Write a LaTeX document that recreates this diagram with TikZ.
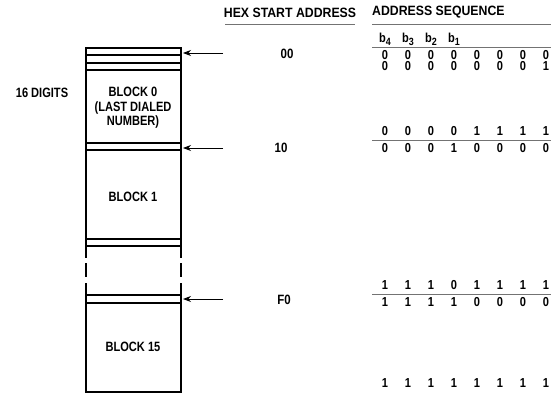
\documentclass[tikz,border=0pt]{standalone}
\usepackage{fontspec}
\setmainfont{Liberation Sans}
\newfontfamily\condfont[FakeStretch=0.82]{Liberation Sans}
\newfontfamily\hdrfont[FakeStretch=0.91]{Liberation Sans}
\newfontfamily\digfont[FakeStretch=0.85]{Liberation Sans}
\usetikzlibrary{arrows.meta}
\begin{document}
\begin{tikzpicture}[x=1pt,y=-1pt,
  wall/.style={line width=1.7pt},
  sep/.style={line width=1.5pt},
  rule/.style={draw=black!55,line width=0.7pt},
  ptr/.style={line width=0.9pt,-{Stealth[length=8pt,width=6pt]}},
  lbl/.style={font=\condfont\bfseries\fontsize{13.5}{14.5}\selectfont,inner sep=0pt,align=center},
  hdr/.style={font=\hdrfont\bfseries\fontsize{13.5}{14}\selectfont,inner sep=0pt},
  dig/.style={font=\digfont\bfseries\fontsize{13}{14}\selectfont,inner sep=0pt},
  hexl/.style={font=\digfont\bfseries\fontsize{13.5}{14}\selectfont,inner sep=0pt}]
\useasboundingbox (0,0) rectangle (551,396);
% box walls
\foreach \xx in {86,181}{
  \draw[wall] (\xx,48) -- (\xx,258);
  \draw[wall] (\xx,263) -- (\xx,277);
  \draw[wall] (\xx,283) -- (\xx,392);
}
\foreach \yy in {48,55,63,70,143,150,239,246,295,303,392}{
  \draw[sep] (85.2,\yy) -- (181.8,\yy);
}
% texts in the block column
\node[lbl] (digits) at (42,93) {16 DIGITS};
\node[lbl] (blk0) at (133,108) {BLOCK 0\\(LAST DIALED\\NUMBER)};
\node[lbl] (blk1) at (133,197) {BLOCK 1};
\node[lbl] (blk15) at (133,347) {BLOCK 15};
% headers
\node[hdr] (hexhdr) at (290,13) {HEX START ADDRESS};
\node[hdr,anchor=west] (seqhdr) at (372,12) {ADDRESS SEQUENCE};
\draw[rule] (225,24) -- (355,24);
\draw[rule] (372,24) -- (551,24);
% hex addresses and pointers
\node[hexl] (h00) at (287,54) {00};
\node[hexl] (h10) at (281,148) {10};
\node[hexl] (hF0) at (284,300) {F0};
\coordinate (t00) at (223,53);  \coordinate (p00) at (183,53);
\coordinate (t10) at (223,148); \coordinate (p10) at (183,148);
\coordinate (tF0) at (223,299); \coordinate (pF0) at (183,299);
\draw[ptr] (t00) -- (p00);
\draw[ptr] (t10) -- (p10);
\draw[ptr] (tF0) -- (pF0);
% bit labels
\foreach \lab/\i in {4/1,3/2,2/3,1/4}{
  \node[dig,anchor=base] (b\lab) at ({385+23*(\i-1)},43) {b\raisebox{-2.5pt}{\fontsize{10.5}{12}\selectfont\lab}};
}
\draw[rule] (372,47) -- (551,47);
\draw[rule] (372,140) -- (551,140);
\draw[rule] (372,294) -- (551,294);
% address rows
\foreach \r/\yy/\bits in {a/55/{0,0,0,0,0,0,0,0},b/66/{0,0,0,0,0,0,0,1},c/131/{0,0,0,0,1,1,1,1},d/148/{0,0,0,1,0,0,0,0},e/285/{1,1,1,0,1,1,1,1},f/302/{1,1,1,1,0,0,0,0},g/383/{1,1,1,1,1,1,1,1}}{
  \foreach \bit [count=\i] in \bits {
    \node[dig] (\r\i) at ({385+23*(\i-1)},\yy) {\bit};
  }
}
\end{tikzpicture}
\end{document}
